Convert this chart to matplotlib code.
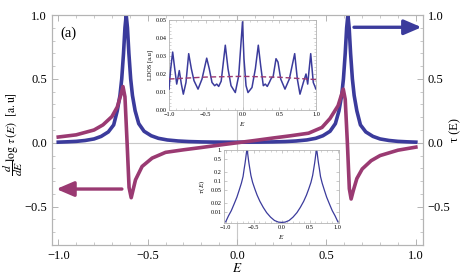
import numpy as np
import matplotlib
matplotlib.use("Agg")
import matplotlib.pyplot as plt
from matplotlib.ticker import MultipleLocator, FixedLocator, NullLocator

plt.rcParams['font.family'] = ['Liberation Serif', 'DejaVu Serif']
plt.rcParams['mathtext.fontset'] = 'stix'

# --- data ---
# transmission tau(E)
E_tau = [-1.00, -0.95, -0.90, -0.85, -0.80, -0.76, -0.72, -0.69, -0.67, -0.655,
         -0.645, -0.635, -0.627, -0.62, -0.613, -0.605, -0.595, -0.585, -0.57, -0.55,
         -0.52, -0.48, -0.44, -0.39, -0.33, -0.27, -0.20, -0.13, -0.06, 0.0,
         0.06, 0.13, 0.20, 0.27, 0.33, 0.39, 0.44, 0.48, 0.52, 0.55,
         0.57, 0.585, 0.595, 0.605, 0.613, 0.62, 0.627, 0.635, 0.645, 0.655,
         0.67, 0.69, 0.72, 0.76, 0.80, 0.85, 0.90, 0.95, 1.00]
tau = [0.0048, 0.0075, 0.011, 0.018, 0.030, 0.050, 0.085, 0.14, 0.25, 0.37,
       0.50, 0.70, 0.90, 1.00, 0.90, 0.70, 0.50, 0.37, 0.25, 0.15,
       0.09, 0.055, 0.035, 0.022, 0.014, 0.0095, 0.0068, 0.0053, 0.0047, 0.0046,
       0.0047, 0.0053, 0.0068, 0.0095, 0.014, 0.022, 0.035, 0.055, 0.09, 0.15,
       0.25, 0.37, 0.50, 0.70, 0.90, 1.00, 0.90, 0.70, 0.50, 0.37,
       0.25, 0.14, 0.085, 0.050, 0.030, 0.018, 0.011, 0.0075, 0.0048]

# d/dE log tau (scaled)
E_dlog = [-1.0, -0.9, -0.8, -0.75, -0.7, -0.67, -0.65, -0.638, -0.627, -0.615,
          -0.604, -0.592, -0.568, -0.531, -0.475, -0.40, -0.30, -0.20, -0.10, 0.0,
          0.10, 0.20, 0.30, 0.40, 0.475, 0.52, 0.565, 0.594, 0.605, 0.617,
          0.628, 0.638, 0.65, 0.67, 0.70, 0.75, 0.80, 0.90, 1.0]
dlog = [0.045, 0.062, 0.10, 0.14, 0.205, 0.28, 0.375, 0.44, 0.36, 0.0,
        -0.35, -0.43, -0.29, -0.185, -0.12, -0.075, -0.055, -0.037, -0.018, 0.0,
        0.018, 0.037, 0.055, 0.075, 0.12, 0.19, 0.29, 0.42, 0.34, 0.0,
        -0.36, -0.44, -0.375, -0.28, -0.205, -0.14, -0.10, -0.058, -0.034]

# LDOS inset
E_ldos = [-1.0, -0.977, -0.95, -0.922, -0.895, -0.86, -0.832, -0.805, -0.769, -0.732,
          -0.696, -0.66, -0.605, -0.551, -0.487, -0.452, -0.415, -0.379, -0.35, -0.324,
          -0.29, -0.234, -0.197, -0.156, -0.098, -0.052, 0.0, 0.02, 0.048, 0.075,
          0.129, 0.175, 0.215, 0.247, 0.283, 0.31, 0.337, 0.365, 0.397, 0.415,
          0.456, 0.483, 0.52, 0.578, 0.637, 0.71, 0.746, 0.782, 0.828, 0.864,
          0.887, 0.928, 0.963, 1.0]
ldos = [0.0116, 0.0229, 0.0322, 0.0229, 0.0144, 0.0219, 0.0144, 0.0088, 0.0153, 0.0313,
        0.0229, 0.0163, 0.0116, 0.0172, 0.0288, 0.0229, 0.0153, 0.0135, 0.0144, 0.0131,
        0.016, 0.036, 0.0229, 0.0135, 0.0097, 0.019, 0.049, 0.0285, 0.0135, 0.0097,
        0.0125, 0.0229, 0.036, 0.0247, 0.0135, 0.0144, 0.0131, 0.0153, 0.0181, 0.0181,
        0.0285, 0.0266, 0.0172, 0.0116, 0.0172, 0.0313, 0.0172, 0.0088, 0.0153, 0.020,
        0.0144, 0.0313, 0.0153, 0.0116]
E_mean = [-1.0, -0.5, 0.0, 0.5, 1.0]
ldos_mean = [0.0172, 0.0183, 0.0187, 0.0182, 0.0169]

blue = '#3b3b9c'
mag = '#9a3a72'
frame = '#b4b4b4'

fig = plt.figure(figsize=(4.63, 2.76), dpi=100)
W, H = 463.0, 276.0

# --- main axes ---
ax = fig.add_axes([52 / W, 1 - 245 / H, 371 / W, 230 / H])
ax.set_xlim(-1.035, 1.04)
ax.set_ylim(-0.8, 1.0)
ax.axhline(0, color='#c8c8c8', lw=0.8, zorder=1)
ax.axvline(0, color='#c8c8c8', lw=0.8, zorder=1)
ax.plot(E_tau, tau, color=blue, lw=2.6, zorder=3, solid_joinstyle='round')
ax.plot(E_dlog, dlog, color=mag, lw=2.6, zorder=4, solid_joinstyle='round')

ax.annotate('', xy=(1.032, 0.904), xytext=(0.654, 0.904),
            arrowprops=dict(arrowstyle='-|>,head_length=0.7,head_width=0.3',
                            color=blue, lw=2.4, mutation_scale=15, shrinkA=0, shrinkB=0))
ax.annotate('', xy=(-1.011, -0.362), xytext=(-0.644, -0.362),
            arrowprops=dict(arrowstyle='-|>,head_length=0.7,head_width=0.3',
                            color=mag, lw=2.4, mutation_scale=15, shrinkA=0, shrinkB=0))
ax.text(-0.944, 0.86, '(a)', fontsize=10.5, ha='center', va='center')

for s in ax.spines.values():
    s.set_color(frame)
    s.set_linewidth(0.8)
ax.xaxis.set_major_locator(FixedLocator([-1.0, -0.5, 0.0, 0.5, 1.0]))
ax.xaxis.set_minor_locator(MultipleLocator(0.1))
ax.yaxis.set_major_locator(FixedLocator([-0.5, 0.0, 0.5, 1.0]))
ax.yaxis.set_minor_locator(MultipleLocator(0.1))
ax.tick_params(which='both', direction='in', color=frame, labelsize=9,
               top=True, right=False)
ax.tick_params(which='major', length=4, width=0.7)
ax.tick_params(which='minor', length=2, width=0.5)
ax.set_xticklabels(['\u22121.0', '\u22120.5', '0.0', '0.5', '1.0'])
ax.set_yticklabels(['\u22120.5', '0.0', '0.5', '1.0'])
ax.set_xlabel('$E$', fontsize=9.5, labelpad=0)

ax2 = ax.twinx()
ax2.set_ylim(-0.8, 1.0)
ax2.yaxis.set_major_locator(FixedLocator([-0.5, 0.0, 0.5, 1.0]))
ax2.yaxis.set_minor_locator(MultipleLocator(0.1))
ax2.set_yticklabels(['\u22120.5', '0.0', '0.5', '1.0'])
ax2.tick_params(which='both', direction='in', color=frame, labelsize=9)
ax2.tick_params(which='major', length=4, width=0.7)
ax2.tick_params(which='minor', length=2, width=0.5)
for s in ax2.spines.values():
    s.set_color(frame)
    s.set_linewidth(0.8)

fig.text(13 / W, 1 - 134 / H, r'$\dfrac{d}{dE}\log\,\tau\,(E)\ \ \mathrm{[a.u]}$',
         rotation=90, ha='center', va='center', fontsize=8.5)
fig.text(455 / W, 1 - 130 / H, '\u03c4 (E)', rotation=90, ha='center', va='center',
         fontsize=9)

# --- inset 1: LDOS ---
ins1 = fig.add_axes([169 / W, 1 - 110 / H, 147 / W, 90 / H])
ins1.set_facecolor('white')
ins1.set_xlim(-1.0, 1.0)
ins1.set_ylim(0.0, 0.05)
ins1.axvline(0, color='#c8c8c8', lw=0.6, zorder=1)
ins1.plot(E_ldos, ldos, color=blue, lw=1.1, zorder=3)
ins1.plot(E_mean, ldos_mean, color=mag, lw=1.0, ls=(0, (4, 2)), zorder=4)
ins1.xaxis.set_major_locator(FixedLocator([-1.0, -0.5, 0.0, 0.5, 1.0]))
ins1.xaxis.set_minor_locator(MultipleLocator(0.1))
ins1.yaxis.set_major_locator(FixedLocator([0.0, 0.01, 0.02, 0.03, 0.04, 0.05]))
ins1.yaxis.set_minor_locator(MultipleLocator(0.002))
ins1.set_xticklabels(['\u22121.0', '\u22120.5', '0.0', '0.5', '1.0'])
ins1.set_yticklabels(['0.00', '0.01', '0.02', '0.03', '0.04', '0.05'])
ins1.tick_params(which='both', direction='in', color=frame, labelsize=4.5, pad=1.5,
                 top=True, right=True)
ins1.tick_params(which='major', length=2.5, width=0.5)
ins1.tick_params(which='minor', length=1.2, width=0.4)
for s in ins1.spines.values():
    s.set_color(frame)
    s.set_linewidth(0.6)
ins1.set_xlabel('$E$', fontsize=5, labelpad=2)
ins1.set_ylabel('LDOS [a.u]', fontsize=4.5, labelpad=2)

# --- inset 2: tau(E) on a log scale ---
ins2 = fig.add_axes([224 / W, 1 - 223 / H, 115 / W, 73 / H])
ins2.set_facecolor('white')
ins2.set_yscale('log')
ins2.set_xlim(-1.03, 1.02)
ins2.set_ylim(0.0044, 1.0)
ins2.plot(E_tau, tau, color=blue, lw=0.9)
ins2.xaxis.set_major_locator(FixedLocator([-1.0, -0.5, 0.0, 0.5, 1.0]))
ins2.xaxis.set_minor_locator(MultipleLocator(0.1))
ins2.yaxis.set_major_locator(FixedLocator([0.01, 0.02, 0.05, 0.1, 0.2, 0.5, 1.0]))
ins2.yaxis.set_minor_locator(NullLocator())
ins2.set_xticklabels(['\u22121.0', '\u22120.5', '0.0', '0.5', '1.0'])
ins2.set_yticklabels(['0.01', '0.02', '0.05', '0.1', '0.2', '0.5', '1.'])
ins2.tick_params(which='both', direction='in', color=frame, labelsize=4.5, pad=1.5,
                 top=True, right=True)
ins2.tick_params(which='major', length=2.5, width=0.5)
ins2.tick_params(which='minor', length=1.2, width=0.4)
for s in ins2.spines.values():
    s.set_color(frame)
    s.set_linewidth(0.6)
ins2.set_xlabel('$E$', fontsize=5, labelpad=2)
ins2.set_ylabel(r'$\tau\,(E)$', fontsize=5, labelpad=3)

fig.savefig('out.png', dpi=100)
